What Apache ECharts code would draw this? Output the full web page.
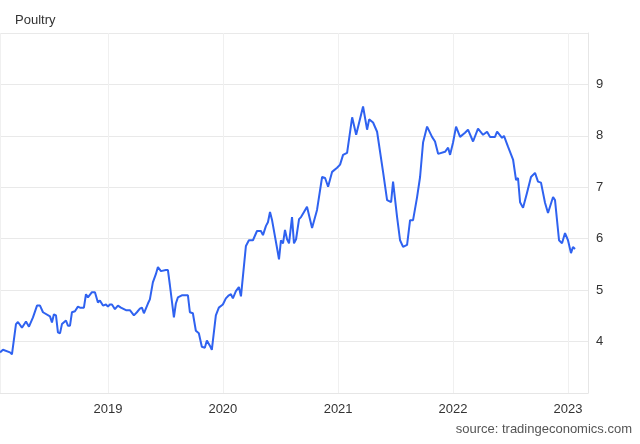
<!DOCTYPE html>
<html>
<head>
<meta charset="utf-8">
<script src="https://cdn.jsdelivr.net/npm/echarts@6/dist/echarts.min.js"></script>
<style>html,body{margin:0;padding:0;background:#fff}#c{width:640px;height:444px}</style>
</head>
<body>
<div id="c"></div>
<script>
// 时间 (decimal year) 和 价格
const years = [2018.061,2018.087,2018.148,2018.165,2018.200,2018.217,2018.252,2018.287,2018.313,2018.348,2018.383,2018.409,2018.435,2018.496,2018.513,2018.530,2018.548,2018.565,2018.583,2018.600,2018.635,2018.652,2018.670,2018.687,2018.713,2018.739,2018.757,2018.791,2018.809,2018.826,2018.861,2018.887,2018.913,2018.930,2018.957,2018.983,2019.000,2019.017,2019.035,2019.061,2019.087,2019.113,2019.157,2019.191,2019.226,2019.252,2019.278,2019.296,2019.313,2019.348,2019.365,2019.391,2019.417,2019.435,2019.461,2019.504,2019.522,2019.539,2019.574,2019.591,2019.609,2019.643,2019.696,2019.713,2019.739,2019.765,2019.791,2019.817,2019.843,2019.861,2019.887,2019.904,2019.939,2019.965,2020.000,2020.026,2020.052,2020.070,2020.087,2020.113,2020.139,2020.157,2020.200,2020.226,2020.261,2020.296,2020.330,2020.348,2020.374,2020.391,2020.409,2020.426,2020.443,2020.470,2020.487,2020.504,2020.522,2020.539,2020.557,2020.574,2020.600,2020.617,2020.635,2020.661,2020.678,2020.704,2020.730,2020.774,2020.817,2020.861,2020.887,2020.913,2020.948,2020.991,2021.017,2021.043,2021.078,2021.122,2021.157,2021.217,2021.252,2021.270,2021.304,2021.339,2021.391,2021.426,2021.461,2021.478,2021.513,2021.539,2021.565,2021.600,2021.626,2021.652,2021.687,2021.713,2021.739,2021.774,2021.817,2021.843,2021.870,2021.930,2021.957,2021.974,2022.000,2022.026,2022.061,2022.104,2022.130,2022.174,2022.217,2022.261,2022.296,2022.322,2022.365,2022.383,2022.426,2022.443,2022.478,2022.522,2022.548,2022.565,2022.583,2022.609,2022.643,2022.678,2022.713,2022.739,2022.765,2022.800,2022.826,2022.870,2022.887,2022.922,2022.948,2022.974,2023.000,2023.026,2023.043,2023.061];
const prices = [3.79,3.84,3.79,3.75,4.34,4.38,4.27,4.39,4.29,4.47,4.70,4.70,4.57,4.49,4.37,4.53,4.51,4.18,4.16,4.34,4.41,4.31,4.31,4.57,4.59,4.68,4.66,4.66,4.92,4.86,4.96,4.96,4.76,4.80,4.70,4.72,4.68,4.72,4.72,4.63,4.70,4.66,4.61,4.61,4.51,4.57,4.64,4.66,4.55,4.74,4.82,5.15,5.31,5.45,5.37,5.39,5.39,5.10,4.47,4.74,4.86,4.90,4.90,4.57,4.55,4.21,4.16,3.90,3.88,4.02,3.92,3.84,4.51,4.66,4.72,4.84,4.90,4.92,4.84,4.98,5.06,4.88,5.86,5.97,5.97,6.15,6.15,6.07,6.25,6.32,6.52,6.37,6.35,5.82,5.60,5.97,5.91,6.17,5.99,5.91,6.42,5.91,5.99,6.38,6.42,6.52,6.62,6.21,6.56,7.20,7.18,7.01,7.30,7.38,7.44,7.63,7.67,8.36,8.02,8.57,8.12,8.32,8.26,8.08,7.30,6.75,6.71,7.11,6.42,5.97,5.84,5.88,6.36,6.36,6.81,7.20,7.87,8.18,7.98,7.89,7.65,7.69,7.77,7.63,7.87,8.18,7.98,8.06,8.12,7.89,8.14,8.02,8.08,7.98,7.98,8.08,7.96,8.00,7.79,7.54,7.14,7.18,6.71,6.60,6.89,7.20,7.28,7.11,7.09,6.70,6.50,6.81,6.75,5.97,5.91,6.11,5.97,5.72,5.84,5.80];
const xStart = 2018.061, xEnd = 2023.174;

function toTime(y) {
    const yr = Math.floor(y);
    const a = Date.UTC(yr, 0, 1), b = Date.UTC(yr + 1, 0, 1);
    return a + (y - yr) * (b - a);
}

const chart = echarts.init(document.getElementById('c'));
chart.setOption({
    animation: false,
    title: {
        text: 'Poultry', left: 10, top: 9,
        textStyle: { fontFamily: 'Arial, Liberation Sans, sans-serif', fontSize: 13, fontWeight: 'normal', color: '#333' }
    },
    graphic: [{
        type: 'text', right: 8, bottom: 8,
        style: { text: 'source: tradingeconomics.com', fontFamily: 'Arial, Liberation Sans, sans-serif', fontSize: 13, fill: '#555' }
    }],
    grid: { left: 0, right: 52, top: 33, bottom: 51 },
    xAxis: {
        type: 'time',
        min: toTime(xStart), max: toTime(xEnd),
        interval: 365.25 * 86400000,
        axisLine: { lineStyle: { color: '#e6e6e6' } },
        axisTick: { show: false },
        axisLabel: { color: '#333', fontSize: 13, fontFamily: 'Arial, Liberation Sans, sans-serif', formatter: '{yyyy}', margin: 10 },
        splitLine: { show: true, lineStyle: { color: '#f0f0f0' } }
    },
    yAxis: {
        type: 'value', position: 'right',
        min: 3, max: 10, interval: 1,
        axisLine: { show: true, lineStyle: { color: '#e6e6e6' } },
        axisTick: { show: false },
        axisLabel: {
            color: '#333', fontSize: 13, fontFamily: 'Arial, Liberation Sans, sans-serif', margin: 8,
            formatter: v => (v === 3 || v === 10) ? '' : String(v)
        },
        splitLine: { lineStyle: { color: '#e9e9e9' } }
    },
    series: [{
        type: 'line',
        data: years.map((y, i) => [toTime(y), prices[i]]),
        showSymbol: false,
        lineStyle: { color: '#2f62f0', width: 2 }
    }]
});
</script>
</body>
</html>
